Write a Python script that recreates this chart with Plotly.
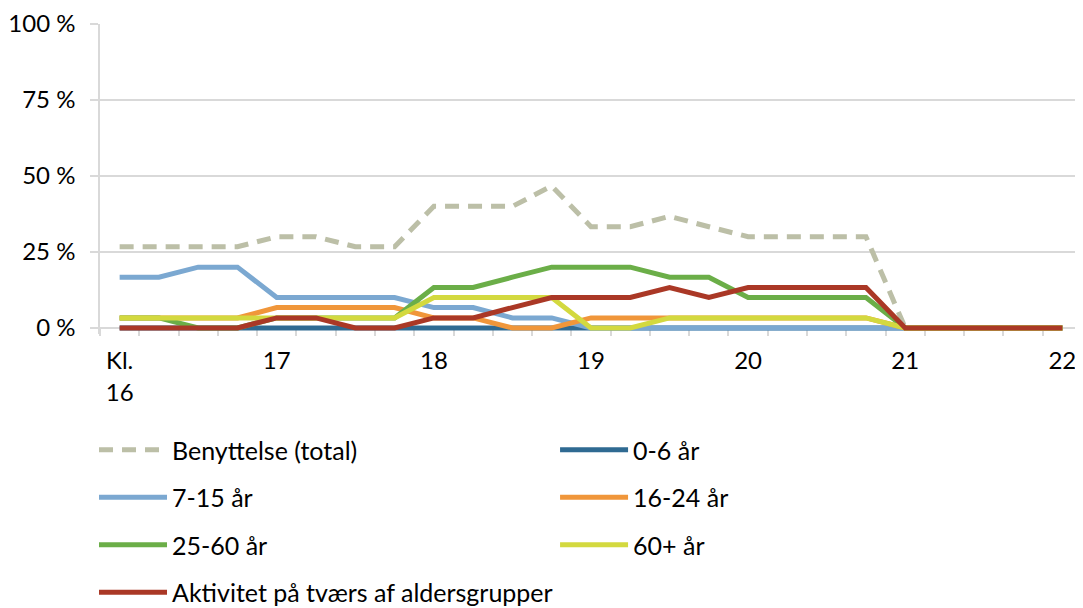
import plotly.graph_objects as go

# quarter-hour slots, 16:00 .. 22:00 (hours as decimals)
hours = [16, 16.25, 16.5, 16.75, 17, 17.25, 17.5, 17.75, 18, 18.25, 18.5, 18.75,
         19, 19.25, 19.5, 19.75, 20, 20.25, 20.5, 20.75, 21, 21.25, 21.5, 21.75, 22]

hour_ticks = [16, 17, 18, 19, 20, 21, 22]
hour_labels = ["Kl.<br>16", "17", "18", "19", "20", "21", "22"]

total = [26.7, 26.7, 26.7, 26.7, 30, 30, 26.7, 26.7, 40, 40, 40, 46.7,
         33.3, 33.3, 36.7, 33.3, 30, 30, 30, 30, 0, 0, 0, 0, 0]
age_0_6 = [0, 0, 0, 0, 0, 0, 0, 0, 0, 0, 0, 0,
           0, 0, 0, 0, 0, 0, 0, 0, 0, 0, 0, 0, 0]
age_7_15 = [16.7, 16.7, 20, 20, 10, 10, 10, 10, 6.7, 6.7, 3.3, 3.3,
            0, 0, 0, 0, 0, 0, 0, 0, 0, 0, 0, 0, 0]
age_16_24 = [3.3, 3.3, 3.3, 3.3, 6.7, 6.7, 6.7, 6.7, 3.3, 3.3, 0, 0,
             3.3, 3.3, 3.3, 3.3, 3.3, 3.3, 3.3, 3.3, 0, 0, 0, 0, 0]
age_25_60 = [3.3, 3.3, 0, 0, 3.3, 3.3, 3.3, 3.3, 13.3, 13.3, 16.7, 20,
             20, 20, 16.7, 16.7, 10, 10, 10, 10, 0, 0, 0, 0, 0]
age_60p = [3.3, 3.3, 3.3, 3.3, 3.3, 3.3, 3.3, 3.3, 10, 10, 10, 10,
           0, 0, 3.3, 3.3, 3.3, 3.3, 3.3, 3.3, 0, 0, 0, 0, 0]
across = [0, 0, 0, 0, 3.3, 3.3, 0, 0, 3.3, 3.3, 6.7, 10,
          10, 10, 13.3, 10, 13.3, 13.3, 13.3, 13.3, 0, 0, 0, 0, 0]

FONT = "Lato"
GRID = "#D9D9D9"

series = [
    ("Benyttelse (total)", total, "#BCBFA7", "14px,9px", "legend"),
    ("0-6 år", age_0_6, "#2F6A92", "solid", "legend2"),
    ("7-15 år", age_7_15, "#7BA8D1", "solid", "legend"),
    ("16-24 år", age_16_24, "#F0963A", "solid", "legend2"),
    ("25-60 år", age_25_60, "#6BAE48", "solid", "legend"),
    ("60+ år", age_60p, "#D3D93F", "solid", "legend2"),
    ("Aktivitet på tværs af aldersgrupper", across, "#AA3826", "solid", "legend"),
]

fig = go.Figure()
for i, (name, vals, color, dash, leg) in enumerate(series):
    fig.add_trace(go.Scatter(
        x=hours, y=vals, name=name, mode="lines",
        line=dict(color=color, width=5, dash=dash),
        legend=leg, legendgroup=str(i),
    ))

legend_common = dict(
    orientation="v", yanchor="top", y=-0.3, xanchor="left",
    font=dict(family=FONT, size=25, color="#000000"),
    tracegroupgap=12, itemwidth=68, bgcolor="rgba(0,0,0,0)",
)

# page body has an 8px default margin, so the figure is sized 8px smaller
fig.update_layout(
    width=1075, height=600,
    margin=dict(l=92, r=1, t=16, b=274, autoexpand=False),
    plot_bgcolor="white", paper_bgcolor="white",
    font=dict(family=FONT, size=24, color="#000000"),
    legend=dict(x=-0.0061, **legend_common),
    legend2=dict(x=0.4634, **legend_common),
    xaxis=dict(
        range=[15.875, 22.125],
        anchor="free", position=2 / 102, automargin=False,
        tickmode="array", tickvals=hour_ticks, ticktext=hour_labels,
        ticks="", showgrid=False, zeroline=False,
        showline=True, linecolor=GRID, linewidth=1.5, layer="below traces",
        ticklabelstandoff=12,
        minor=dict(tickmode="linear", tick0=15.875, dtick=0.25,
                   ticks="outside", ticklen=7, tickcolor=GRID, tickwidth=1.5,
                   showgrid=False),
    ),
    yaxis=dict(
        range=[-2, 100], automargin=False,
        tickmode="array", tickvals=[0, 25, 50, 75, 100],
        ticktext=["0 %", "25 %", "50 %", "75 %", "100 %"],
        showgrid=True, gridcolor=GRID, gridwidth=1.5, zeroline=False,
        showline=True, linecolor=GRID, linewidth=1.5, layer="below traces",
        ticks="outside", ticklen=8, tickcolor=GRID, tickwidth=1.5,
        ticklabelstandoff=10,
    ),
)

fig.write_html("out.html")
